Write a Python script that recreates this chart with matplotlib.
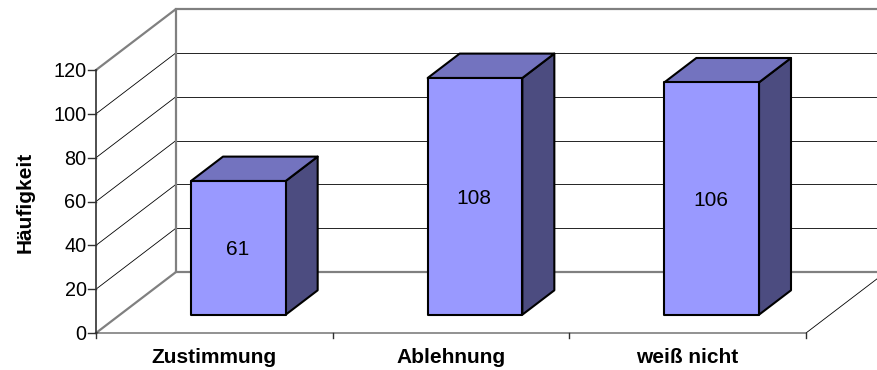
import matplotlib
matplotlib.use("Agg")
import matplotlib.pyplot as plt
from matplotlib.patches import Polygon

categories = ["Zustimmung", "Ablehnung", "weiß nicht"]
values = [61, 108, 106]
yticks = [0, 20, 40, 60, 80, 100, 120]
ylabel = "Häufigkeit"

W, H = 877, 370
plt.rcParams['font.family'] = ['Liberation Sans', 'DejaVu Sans']

fig = plt.figure(figsize=(W / 100, H / 100), dpi=100)
ax = fig.add_axes([0, 0, 1, 1])
ax.set_axis_off()

# pixel geometry of the front plane
x0_px, x3_px = 96, 806
y0_px, y120_px = 333, 70
sx = (x3_px - x0_px) / len(categories)      # px per category
sy = (y0_px - y120_px) / yticks[-1]         # px per value unit
ax.set_xlim(-x0_px / sx, (W - x0_px) / sx)
ax.set_ylim(-(H - y0_px) / sy, y0_px / sy)

# oblique depth offset (full depth) in data units
DX = 80 / sx
DY = 61 / sy
ymax = yticks[-1]
ncat = len(categories)

def P(x, v, d):
    return (x + d * DX, v + d * DY)

gray = "#808080"
# back wall gridlines and left wall gridlines
for t in yticks[1:-1]:
    ax.plot(*zip(P(0, t, 0), P(0, t, 1)), color="black", lw=0.6, zorder=1)
    ax.plot(*zip(P(0, t, 1), P(ncat + 0.2, t, 1)), color="black", lw=0.6, zorder=1)
# wall outline
ax.plot(*zip(P(0, 0, 0), P(0, 0, 1), P(0, ymax, 1), P(0, ymax, 0)), color=gray, lw=1.6, zorder=2)
ax.plot(*zip(P(0, ymax, 1), P(ncat + 0.2, ymax, 1)), color=gray, lw=1.6, zorder=2)
ax.plot(*zip(P(0, 0, 1), P(ncat + 0.2, 0, 1)), color=gray, lw=1.6, zorder=2)
# floor front and right edges
ax.plot(*zip(P(0, 0, 0), P(ncat, 0, 0), P(ncat, 0, 1)), color="black", lw=0.6, zorder=2)
# y axis
ax.plot([0, 0], [0, ymax], color="#303030", lw=1.2, zorder=3)
for t in yticks:
    ax.plot([-8 / sx, 0], [t, t], color="#303030", lw=1.0, zorder=3)
    ax.text(-9.5 / sx, t - 7 / sy, str(t), ha="right", va="baseline", fontsize=14.3, zorder=3)
for i in range(ncat + 1):
    ax.plot([i, i], [0, -5 / sy], color="#303030", lw=1.0, zorder=3)
for i, c in enumerate(categories):
    ax.text(i + 0.5, -30 / sy, c, ha="center", va="baseline", fontsize=15,
            fontweight="bold", zorder=3)
ax.text(-71 / sx, (y0_px - 202) / sy, ylabel, rotation=90, ha="center", va="center",
        fontsize=15, fontweight="bold")

front_c, top_c, side_c = "#9999FF", "#7373BF", "#4C4C80"
bw, d0, d1 = 0.4, 0.3, 0.7
for i, v in enumerate(values):
    xl, xr = i + 0.5 - bw / 2, i + 0.5 + bw / 2
    kw = dict(ec="black", lw=1.5, joinstyle="round", zorder=5)
    ax.add_patch(Polygon([P(xr, 0, d0), P(xr, 0, d1), P(xr, v, d1), P(xr, v, d0)], fc=side_c, **kw))
    ax.add_patch(Polygon([P(xl, v, d0), P(xr, v, d0), P(xr, v, d1), P(xl, v, d1)], fc=top_c, **kw))
    ax.add_patch(Polygon([P(xl, 0, d0), P(xr, 0, d0), P(xr, v, d0), P(xl, v, d0)], fc=front_c, **kw))
    cx, cy = P(i + 0.5, v / 2, d0)
    ax.text(cx - 1 / sx, cy - 7.5 / sy, str(v), ha="center", va="baseline", fontsize=15, zorder=6)

fig.savefig("out.png", dpi=100)
